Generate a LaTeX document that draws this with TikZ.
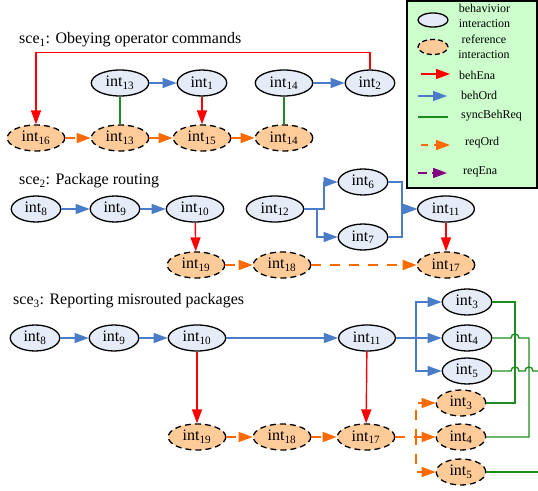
\documentclass[tikz,border=0pt]{standalone}
\usepackage{fontspec}
\setmainfont{Liberation Serif}
\usetikzlibrary{arrows.meta,shapes.geometric}
\definecolor{cblue}{HTML}{4A7CC7}
\definecolor{cred}{HTML}{FF0000}
\definecolor{cgreen}{HTML}{1E8C1E}
\definecolor{corange}{HTML}{FF6A00}
\definecolor{cpurple}{HTML}{800080}
\definecolor{bfill}{HTML}{E6ECF7}
\definecolor{ofill}{HTML}{FFCC99}
\definecolor{lfill}{HTML}{CCFFCC}
\newcommand{\nint}[1]{int\textsubscript{#1}}
\tikzset{
  behnode/.style={ellipse, draw=black, line width=1.3pt, fill=bfill,
    minimum width=49pt, minimum height=26pt, inner xsep=6pt, inner ysep=0pt,
    font=\fontsize{16}{18}\selectfont},
  refnode/.style={behnode, fill=ofill, dash pattern=on 6pt off 4pt},
  tip/.style={-{Triangle[length=14pt,width=10pt]}},
  eblue/.style={tip, draw=cblue, line width=1.4pt},
  ered/.style={tip, draw=cred, line width=1.4pt},
  egreen/.style={draw=cgreen, line width=1.4pt},
  eorange/.style={tip, draw=corange, line width=1.4pt, dash pattern=on 10pt off 9pt},
  epurple/.style={tip, draw=cpurple, line width=1.4pt},
  titletext/.style={anchor=west, inner sep=0pt, font=\fontsize{16}{18}\selectfont},
  legtext/.style={inner sep=0pt, font=\fontsize{12}{15}\selectfont},
}
\begin{document}
\begin{tikzpicture}[x=1pt,y=-1pt]
\useasboundingbox (0,0) rectangle (538,490);

% ---------- legend ----------
\node[draw=black, line width=1.2pt, fill=lfill, minimum width=130pt, minimum height=187pt, inner sep=0pt] (legend) at (472,94.5) {};
\node[ellipse, draw=black, line width=1.3pt, fill=bfill, minimum width=30pt, minimum height=14pt, inner sep=0pt] (lbeh) at (433,20) {};
\node[ellipse, draw=black, line width=1.3pt, fill=ofill, dash pattern=on 5pt off 3pt, minimum width=30pt, minimum height=15pt, inner sep=0pt] (lref) at (433,47) {};
\node[legtext, align=center] (lbehT) at (484.5,15.5) {behavivior\\interaction};
\node[legtext, align=center] (lrefT) at (484,46.5) {reference\\interaction};
\coordinate (la1) at (421,74); \coordinate (la2) at (450,74);
\coordinate (lb1) at (418,96); \coordinate (lb2) at (447,96);
\coordinate (lc1) at (418,117); \coordinate (lc2) at (448,117);
\coordinate (ld1) at (421,145); \coordinate (ld2) at (450,145);
\coordinate (le1) at (418,173); \coordinate (le2) at (447,173);
\draw[ered] (la1) -- (la2);
\draw[eblue] (lb1) -- (lb2);
\draw[egreen] (lc1) -- (lc2);
\draw[eorange, dash pattern=on 7pt off 6pt] (ld1) -- (ld2);
\draw[epurple, dash pattern=on 9pt off 5pt] (le1) -- (le2);
\node[legtext, anchor=west] (lt1) at (459,75) {behEna};
\node[legtext, anchor=west] (lt2) at (461,95) {behOrd};
\node[legtext, anchor=west] (lt3) at (461,115.5) {syncBehReq};
\node[legtext, anchor=west] (lt4) at (465,143) {reqOrd};
\node[legtext, anchor=west] (lt5) at (463,171.5) {reqEna};

% ---------- sce1 ----------
\node[titletext] (title1) at (19,40) {sce\textsubscript{1}: Obeying operator commands};
\node[behnode] (t13) at (120,83) {\nint{13}};
\node[behnode] (t1)  at (202,83) {\nint{1}};
\node[behnode] (t14) at (284,83) {\nint{14}};
\node[behnode] (t2)  at (370,83) {\nint{2}};
\node[refnode] (r16) at (36,138) {\nint{16}};
\node[refnode] (r13) at (120,138) {\nint{13}};
\node[refnode] (r15) at (202,138) {\nint{15}};
\node[refnode] (r14) at (284,138) {\nint{14}};
\draw[ered] (t2.north) -- ++(0,-17) -| (r16.north);
\draw[eblue] (t13) -- (t1);
\draw[eblue] (t14) -- (t2);
\draw[ered] (t1) -- (r15);
\draw[egreen] (t13) -- (r13);
\draw[egreen] (t14) -- (r14);
\draw[eorange] (r16) -- (r13);
\draw[eorange] (r13) -- (r15);
\draw[eorange] (r15) -- (r14);

% ---------- sce2 ----------
\node[titletext] (title2) at (19,181) {sce\textsubscript{2}: Package routing};
\node[behnode] (s8)  at (36,209) {\nint{8}};
\node[behnode] (s9)  at (115,209) {\nint{9}};
\node[behnode] (s10) at (195,209) {\nint{10}};
\node[behnode] (s12) at (275,209) {\nint{12}};
\node[behnode] (s6)  at (363,182) {\nint{6}};
\node[behnode] (s7)  at (363,237) {\nint{7}};
\node[behnode] (s11) at (446,209) {\nint{11}};
\node[refnode] (s19) at (196,265) {\nint{19}};
\node[refnode] (s18) at (282,265) {\nint{18}};
\node[refnode] (s17) at (446,265) {\nint{17}};
\draw[eblue] (s8) -- (s9);
\draw[eblue] (s9) -- (s10);
\draw[eblue] (s12.east) -- (324,209) |- (s6);
\draw[eblue] (s12.east) -- (317,209) |- (s7);
\draw[eblue] (s6.east) -- (402,182) |- (s11);
\draw[eblue] (s7.east) -- (402,237) |- (s11);
\draw[ered] (s10) -- (s19);
\draw[ered] (s11) -- (s17);
\draw[eorange] (s19) -- (s18);
\draw[eorange] (s18) -- (s17);

% ---------- sce3 ----------
\node[titletext] (title3) at (13,301) {sce\textsubscript{3}: Reporting misrouted packages};
\node[behnode] (u8)  at (35,338) {\nint{8}};
\node[behnode] (u9)  at (114,338) {\nint{9}};
\node[behnode] (u10) at (197,338) {\nint{10}};
\node[behnode] (u11) at (367,338) {\nint{11}};
\node[behnode] (u3)  at (467,302) {\nint{3}};
\node[behnode] (u4)  at (467,338) {\nint{4}};
\node[behnode] (u5)  at (467,371) {\nint{5}};
\node[refnode] (v3)  at (461,403) {\nint{3}};
\node[refnode] (v4)  at (461,437) {\nint{4}};
\node[refnode] (v5)  at (461,472) {\nint{5}};
\node[refnode] (u19) at (197,437) {\nint{19}};
\node[refnode] (u18) at (282,437) {\nint{18}};
\node[refnode] (u17) at (366,437) {\nint{17}};
\draw[eblue] (u8) -- (u9);
\draw[eblue] (u9) -- (u10);
\draw[eblue] (u10) -- (u11);
\draw[eblue] (u11.east) -- (416,338) |- (u3);
\draw[eblue] (u11.east) -- (u4);
\draw[eblue] (u11.east) -- (416,338) |- (u5);
\draw[ered] (u10) -- (u19);
\draw[ered] (u11) -- (u17);
\draw[eorange] (u19) -- (u18);
\draw[eorange] (u18) -- (u17);
\draw[eorange] (u17.east) -- (416,437) |- (v3);
\draw[eorange] (u17.east) -- (v4);
\draw[eorange] (u17.east) -- (416,437) |- (v5);
\coordinate (edgeA) at (538,371);
\coordinate (edgeB) at (538,472);
\draw[egreen] (u3.east) -- (515,302) |- (v3.east);
\draw[egreen] (u4.east) -- (511,338) .. controls (511,332.7) and (519,332.7) .. (519,338) -- (529,338) |- (v4.east);
\draw[egreen] (u5.east) -- (511,371) .. controls (511,365.7) and (519,365.7) .. (519,371) -- (525,371) .. controls (525,365.7) and (533,365.7) .. (533,371) -- (edgeA);
\draw[egreen] (v5.east) -- (edgeB);
\end{tikzpicture}
\end{document}
